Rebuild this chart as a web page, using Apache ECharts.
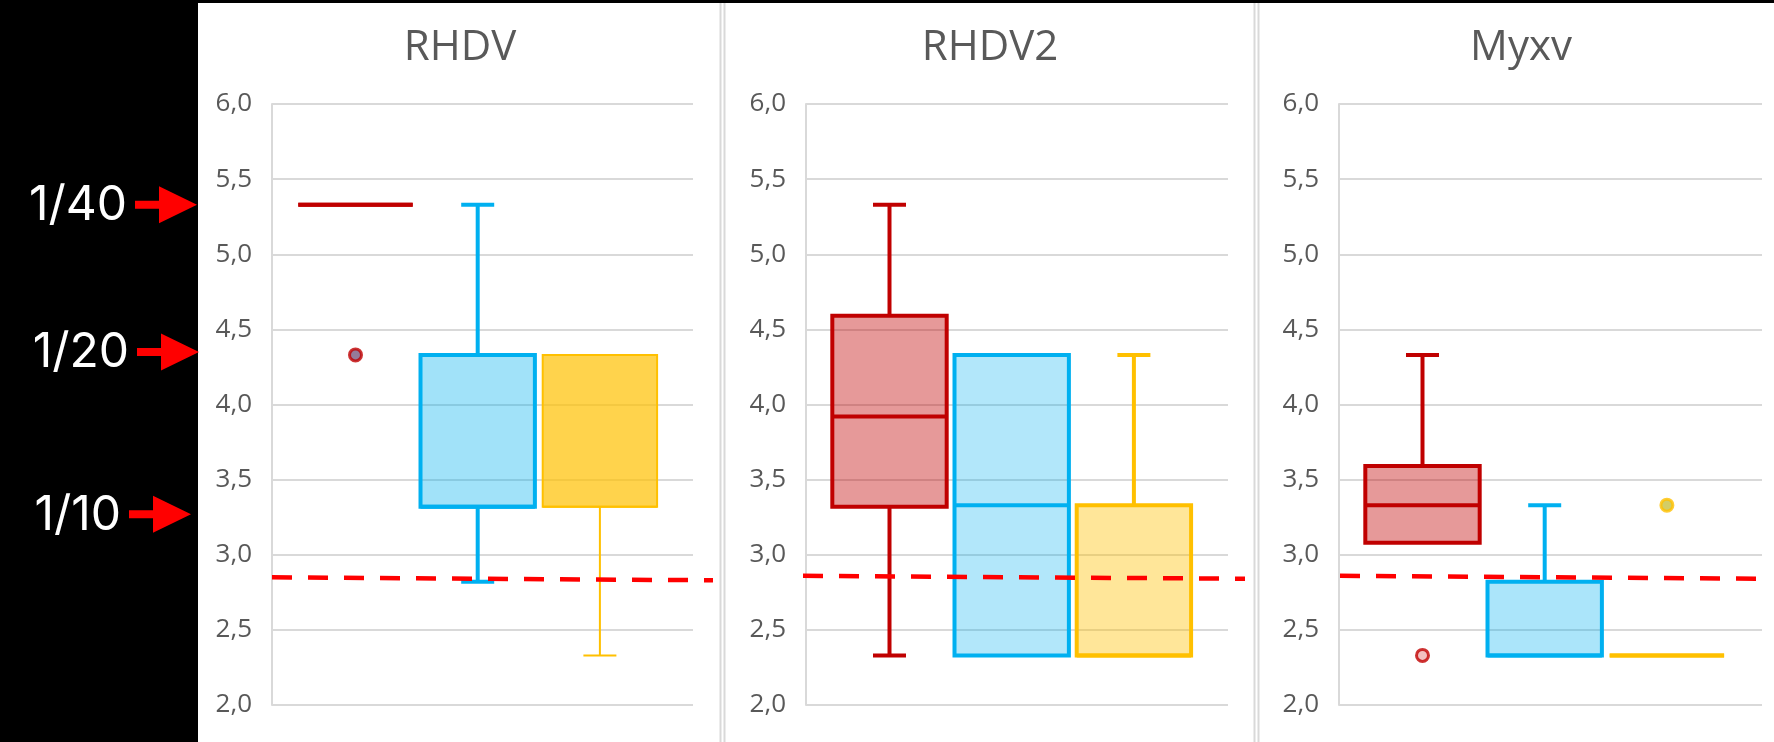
<!DOCTYPE html>
<html>
<head>
<meta charset="utf-8">
<title>RHDV / RHDV2 / Myxv</title>
<script src="https://cdn.jsdelivr.net/npm/echarts@6/dist/echarts.min.js"></script>
<style>
html, body { margin: 0; padding: 0; background: #fff; }
#main { width: 1774px; height: 742px; }
</style>
</head>
<body>
<div id="main"></div>
<script>

// ---- data -------------------------------------------------------------
var panelNames = ['RHDV', 'RHDV2', 'Myxv'];
var groupNames = ['A', 'B', 'C'];

// each box: [min, q1, median, q3, max]
var rhdvBoxes  = [[5.33, 5.33, 5.33, 5.33, 5.33], [2.82, 3.32, 3.32, 4.33, 5.33], [2.33, 3.32, 3.32, 4.33, 4.33]];
var rhdv2Boxes = [[2.33, 3.32, 3.92, 4.59, 5.33], [2.33, 2.33, 3.33, 4.33, 4.33], [2.33, 2.33, 2.33, 3.33, 4.33]];
var myxvBoxes  = [[3.08, 3.08, 3.33, 3.59, 4.33], [2.33, 2.33, 2.33, 2.82, 3.33], [2.33, 2.33, 2.33, 2.33, 2.33]];

// outliers: [group index, value]
var rhdvOutliers  = [[0, 4.33]];
var rhdv2Outliers = [];
var myxvOutliers  = [[0, 2.33], [2, 3.33]];

// dashed cut-off line, value at left and right end
var cutoffStart = [2.85, 2.86, 2.86];
var cutoffEnd   = [2.83, 2.84, 2.84];

var yMin = 2, yMax = 6, yStep = 0.5;

var dilutionLabels = ['1/40', '1/20', '1/10'];
var dilutionValues = [5.33, 4.35, 3.27];

var allBoxes = [rhdvBoxes, rhdv2Boxes, myxvBoxes];
var allOutliers = [rhdvOutliers, rhdv2Outliers, myxvOutliers];

// ---- layout / styles --------------------------------------------------
var plotLeft = [272, 806, 1339];
var plotWidth = [421, 422, 423];
var plotTop = 104, plotHeight = 601;
var lineLeft = [272, 803, 1340];
var lineRight = [713, 1245, 1761];
var titleX = [455, 985, 1516];
var arrowTipX = [197, 199, 191];

var RED = '#C00000', BLUE = '#00B0F0', YEL = '#FFC000';
var boxStyles = [
  [{fill: 'rgba(192,0,0,0.4)', stroke: RED, width: 4},
   {fill: 'rgba(0,176,240,0.37)', stroke: BLUE, width: 4},
   {fill: 'rgba(255,192,0,0.7)', stroke: YEL, width: 2}],
  [{fill: 'rgba(192,0,0,0.4)', stroke: RED, width: 4},
   {fill: 'rgba(0,176,240,0.3)', stroke: BLUE, width: 4},
   {fill: 'rgba(255,192,0,0.4)', stroke: YEL, width: 4}],
  [{fill: 'rgba(192,0,0,0.4)', stroke: RED, width: 4},
   {fill: 'rgba(0,176,240,0.33)', stroke: BLUE, width: 4},
   {fill: 'rgba(255,192,0,0.4)', stroke: YEL, width: 4}]
];
var outlierFill = [['#7a5a80', '#9fd8f0', '#d8c030'], ['#e6a0a0', '#9fd8f0', '#d8c030'], ['#f0b0b0', '#9fd8f0', '#c8c040']];

function makeBoxRenderer(p) {
  return function (params, api) {
    var g = api.value(0);
    var lo = api.coord([g, api.value(1)]);
    var q1 = api.coord([g, api.value(2)]);
    var md = api.coord([g, api.value(3)]);
    var q3 = api.coord([g, api.value(4)]);
    var hi = api.coord([g, api.value(5)]);
    var band = api.size([1, 0])[0];
    var half = band * 0.468;
    var cap = band * 0.135;
    var cx = lo[0];
    var st = boxStyles[p][g];
    function ln(x1, y1, x2, y2) {
      return {type: 'line', shape: {x1: x1, y1: y1, x2: x2, y2: y2},
        style: {stroke: st.stroke, lineWidth: st.width}};
    }
    var kids = [];
    if (hi[1] < q3[1] - 0.5) {
      kids.push(ln(cx, q3[1], cx, hi[1]));
      kids.push(ln(cx - cap, hi[1], cx + cap, hi[1]));
    }
    if (lo[1] > q1[1] + 0.5) {
      kids.push(ln(cx, q1[1], cx, lo[1]));
      kids.push(ln(cx - cap, lo[1], cx + cap, lo[1]));
    }
    kids.push({type: 'rect',
      shape: {x: cx - half, y: q3[1], width: half * 2, height: q1[1] - q3[1]},
      style: {fill: st.fill, stroke: st.stroke, lineWidth: st.width}});
    kids.push(ln(cx - half, md[1], cx + half, md[1]));
    return {type: 'group', children: kids};
  };
}

function fmt(v) { return v.toFixed(1).replace('.', ','); }

var grids = [], xAxes = [], yAxes = [], series = [], titles = [];

for (var p = 0; p < 3; p++) {
  var a = 3 * p, b = 3 * p + 1, c = 3 * p + 2;

  titles.push({
    text: panelNames[p], left: titleX[p], top: 22, textAlign: 'center',
    textStyle: {fontFamily: 'Open Sans', fontSize: 42, fontWeight: 'normal', color: '#595959'}
  });

  // visible frame with gridlines
  grids.push({left: plotLeft[p], top: plotTop, width: plotWidth[p], height: plotHeight});
  // boxes
  grids.push({left: plotLeft[p] + 22.4, top: plotTop, width: 366.6, height: plotHeight});
  // cut-off line
  grids.push({left: lineLeft[p], top: plotTop, width: lineRight[p] - lineLeft[p], height: plotHeight});

  xAxes.push({gridIndex: a, type: 'value', min: 0, max: 1, show: false});
  xAxes.push({gridIndex: b, type: 'category', data: groupNames, show: false});
  xAxes.push({gridIndex: c, type: 'value', min: 0, max: 1, show: false});

  yAxes.push({
    gridIndex: a, type: 'value', min: yMin, max: yMax, interval: yStep,
    axisLine: {show: true, lineStyle: {color: '#D9D9D9', width: 2}},
    axisTick: {show: false},
    axisLabel: {margin: 20, formatter: fmt, fontFamily: 'Open Sans', fontSize: 26, color: '#595959'},
    splitLine: {show: true, lineStyle: {color: '#D9D9D9', width: 2}}
  });
  yAxes.push({gridIndex: b, type: 'value', min: yMin, max: yMax, show: false});
  yAxes.push({gridIndex: c, type: 'value', min: yMin, max: yMax, show: false});

  var boxData = allBoxes[p].map(function (bx, i) {
    return [i].concat(bx);
  });
  series.push({
    type: 'custom', xAxisIndex: b, yAxisIndex: b, silent: true,
    renderItem: makeBoxRenderer(p),
    encode: {x: 0, y: [1, 2, 3, 4, 5]},
    data: boxData, z: 2
  });

  var pp = p;
  series.push({
    type: 'scatter', xAxisIndex: b, yAxisIndex: b, silent: true,
    symbol: 'circle', symbolSize: 12, z: 3,
    data: allOutliers[p].map(function (o) {
      var st = boxStyles[pp][o[0]];
      return {value: o, itemStyle: {color: outlierFill[pp][o[0]], borderColor: st.stroke, borderWidth: 3}};
    })
  });

  series.push({
    type: 'line', xAxisIndex: c, yAxisIndex: c, silent: true,
    symbol: 'none', z: 5,
    lineStyle: {color: '#FF0000', width: 4.5, type: [20, 16]},
    data: [[0, cutoffStart[p]], [1, cutoffEnd[p]]]
  });
}

var chart = echarts.init(document.getElementById('main'));

var option = {
  backgroundColor: '#ffffff',
  animation: false,
  title: titles,
  grid: grids,
  xAxis: xAxes,
  yAxis: yAxes,
  series: series,
  graphic: [
    // black margin on the left and a thin band on top
    {type: 'rect', shape: {x: 0, y: 0, width: 198, height: 742}, style: {fill: '#000'}, z: 100},
    {type: 'rect', shape: {x: 0, y: 0, width: 1774, height: 3}, style: {fill: '#000'}, z: 100},
    // chart borders between the three panels
    {type: 'line', shape: {x1: 720.5, y1: 3, x2: 720.5, y2: 742}, style: {stroke: '#D9D9D9', lineWidth: 2}},
    {type: 'line', shape: {x1: 724.5, y1: 3, x2: 724.5, y2: 742}, style: {stroke: '#D9D9D9', lineWidth: 2}},
    {type: 'line', shape: {x1: 1254.5, y1: 3, x2: 1254.5, y2: 742}, style: {stroke: '#D9D9D9', lineWidth: 2}},
    {type: 'line', shape: {x1: 1258.5, y1: 3, x2: 1258.5, y2: 742}, style: {stroke: '#D9D9D9', lineWidth: 2}}
  ]
};

chart.setOption(option);

// dilution arrows on the left, placed at their titre value
var notes = [];
for (var i = 0; i < dilutionLabels.length; i++) {
  var y = chart.convertToPixel({yAxisIndex: 0}, dilutionValues[i]);
  var tip = arrowTipX[i];
  notes.push({
    type: 'text', z: 110,
    style: {text: dilutionLabels[i], x: tip - 70, y: y + 1, align: 'right', verticalAlign: 'middle',
      fill: '#fff', fontFamily: 'Inter', fontSize: 48}
  });
  notes.push({
    type: 'polygon', z: 110,
    shape: {points: [[tip - 62, y - 4], [tip - 38, y - 4], [tip - 38, y - 18.5], [tip, y],
      [tip - 38, y + 18.5], [tip - 38, y + 4], [tip - 62, y + 4]]},
    style: {fill: '#FF0000'}
  });
}
chart.setOption({graphic: option.graphic.concat(notes)});

</script>
</body>
</html>
